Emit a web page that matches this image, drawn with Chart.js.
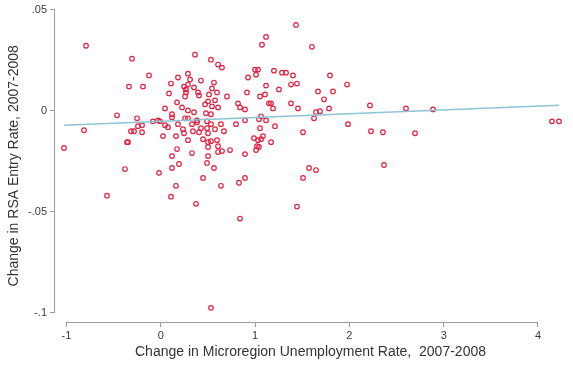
<!DOCTYPE html>
<html>
<head>
<meta charset="utf-8">
<script src="https://cdn.jsdelivr.net/npm/chart.js@4/dist/chart.umd.min.js"></script>
<style>
  html, body { margin: 0; padding: 0; background: #ffffff; }
  #wrap { width: 573px; height: 367px; }
</style>
</head>
<body>
<div id="wrap"><canvas id="c" width="573" height="367"></canvas></div>
<script>
// Change in microregion unemployment rate, 2007-2008 (one entry per microregion)
const unempChange = [
  -0.793, -0.305, -0.125, -0.337, -0.189, -0.464, 0.363, 1.434, 1.116, 1.073,
  1.603, 0.532, 0.607, 0.649, 0.999, 1.031, 1.200, 1.010, 1.285, 1.328,
  1.402, 1.794, 0.925, 1.116, 1.253, 1.381, 1.444, 1.975, 0.596, 0.564,
  0.702, 0.914, 1.052, 1.105, 1.147, 1.169, 1.381, 0.819, 0.840, 0.893,
  1.190, 1.455, 0.607, 1.063, 1.041, 0.893, 1.116, 1.667, 1.826, 1.731,
  2.218, 1.784, 1.646, 1.688, 2.600, 2.887, 1.625, 1.985, 1.508, 2.229,
  2.356, 2.696, 2.367, 4.148, 4.223, 0.288, 0.182, 0.310, 0.426, 0.108,
  0.246, 0.288, 0.352, 0.543, 0.267, 0.267, 0.087, 0.257, 0.395, 0.405,
  0.511, 0.501, 0.575, 0.172, 0.469, 0.543, 0.225, 0.045, 0.288, 0.352,
  0.479, 0.532, 0.119, 0.119, 0.257, 0.288, -0.252, -0.030, 0.384, -0.242,
  -0.199, -0.083, -0.008, -0.316, -0.284, -0.199, 0.045, 0.076, 0.182, 0.235,
  0.246, 0.331, 0.384, 0.341, 0.405, 0.426, 0.490, 0.532, 0.490, 0.501,
  0.575, -0.348, 0.023, 0.161, 0.288, 0.448, 0.501, 0.532, 0.596, 0.172,
  0.501, 0.607, 0.331, 0.607, 0.119, 0.501, -0.380, 0.119, 0.193, 0.490,
  0.564, -0.019, 0.448, 0.161, 0.638, 0.108, 0.373, 0.638, 0.670, 0.797,
  1.211, 1.052, 0.649, 0.734, 0.988, 1.031, 1.063, 1.084, 1.020, 1.041,
  1.010, 1.169, 0.893, 0.893, 0.829, 1.508, 1.572, 1.646, 1.444, 0.840,
  -0.814, -1.027, -0.358, -0.571, 0.532
];

// Change in RSA entry rate, 2007-2008 (same order as above)
const entryChange = [
  0.0321, 0.0257, 0.0174, 0.0119, 0.0119, -0.0023, 0.0277, 0.0424, 0.0365, 0.0326,
  0.0316, 0.0252, 0.0228, 0.0213, 0.0203, 0.0203, 0.0198, 0.0178, 0.0188, 0.0188,
  0.0174, 0.0174, 0.0164, 0.0124, 0.0105, 0.0129, 0.0134, 0.0129, 0.0090, 0.0139,
  0.0070, 0.0090, 0.0070, 0.0080, 0.0036, 0.0036, 0.0036, 0.0036, 0.0016, 0.0006,
  0.0011, 0.0011, 0.0016, -0.0028, -0.0043, -0.0048, -0.0048, 0.0095, 0.0095, 0.0056,
  0.0026, 0.0011, -0.0008, -0.0003, 0.0011, 0.0006, -0.0038, -0.0067, -0.0107, -0.0102,
  -0.0107, -0.0112, -0.0269, -0.0053, -0.0053, 0.0183, 0.0164, 0.0154, 0.0149, 0.0134,
  0.0119, 0.0129, 0.0115, 0.0110, 0.0105, 0.0090, 0.0085, 0.0070, 0.0090, 0.0075,
  0.0080, 0.0046, 0.0051, 0.0041, 0.0031, 0.0021, 0.0016, 0.0011, 0.0001, -0.0008,
  -0.0013, -0.0018, -0.0018, -0.0033, -0.0038, -0.0038, -0.0038, -0.0048, -0.0048, -0.0077,
  -0.0072, -0.0053, -0.0053, -0.0102, -0.0102, -0.0107, -0.0072, -0.0082, -0.0067, -0.0092,
  -0.0112, -0.0067, -0.0058, -0.0102, -0.0107, -0.0087, -0.0053, -0.0067, -0.0087, -0.0112,
  -0.0092, -0.0156, -0.0126, -0.0126, -0.0146, -0.0141, -0.0156, -0.0151, -0.0146, -0.0190,
  -0.0180, -0.0176, -0.0210, -0.0205, -0.0225, -0.0225, -0.0289, -0.0284, -0.0264, -0.0259,
  -0.0284, -0.0308, -0.0333, -0.0372, -0.0372, -0.0426, -0.0461, -0.0067, -0.0102, -0.0067,
  -0.0077, -0.0087, -0.0200, -0.0195, -0.0136, -0.0146, -0.0141, -0.0126, -0.0176, -0.0180,
  -0.0195, -0.0156, -0.0215, -0.0333, -0.0357, -0.0333, -0.0284, -0.0294, -0.0475, -0.0534,
  -0.0097, -0.0185, -0.0156, -0.0421, -0.0976
];

// Linear fit, endpoints over the observed range
const fitX = [-1.027, 4.223];
const fitY = [-0.0072, 0.0027];

// Axis ticks and their printed labels
const xTickValues = [-1, 0, 1, 2, 3, 4];
const xTickLabels = ['-1', '0', '1', '2', '3', '4'];
const yTickValues = [-0.1, -0.05, 0, 0.05];
const yTickLabels = ['-.1', '-.05', '0', '.05'];

const xTitle = 'Change in Microregion Unemployment Rate,  2007-2008';
const yTitle = 'Change in RSA Entry Rate, 2007-2008';

const scatterPoints = unempChange.map((x, i) => ({ x: x, y: entryChange[i] }));
const fitPoints = fitX.map((x, i) => ({ x: x, y: fitY[i] }));

const FONT = "'Liberation Sans', Arial, Helvetica, sans-serif";
const AXIS_GREY = '#9c9c9c';

// Axis lines spanning only the labelled range, offset from the data region
const axisLines = {
  id: 'axisLines',
  beforeDatasetsDraw(chart) {
    const { ctx, chartArea, scales } = chart;
    const xs = scales.x, ys = scales.y;
    ctx.save();
    ctx.strokeStyle = AXIS_GREY;
    ctx.lineWidth = 1;
    ctx.beginPath();
    const yb = Math.round(chartArea.bottom) + 0.5;
    ctx.moveTo(xs.getPixelForValue(xTickValues[0]), yb);
    ctx.lineTo(xs.getPixelForValue(xTickValues[xTickValues.length - 1]), yb);
    const xl = Math.round(chartArea.left) - 0.5;
    ctx.moveTo(xl, ys.getPixelForValue(yTickValues[0]));
    ctx.lineTo(xl, ys.getPixelForValue(yTickValues[yTickValues.length - 1]));
    ctx.stroke();
    ctx.restore();
  }
};

new Chart(document.getElementById('c'), {
  type: 'scatter',
  data: {
    datasets: [
      {
        type: 'line',
        data: fitPoints,
        borderColor: '#8cc4d6',
        borderWidth: 1.5,
        pointRadius: 0,
        fill: false,
        tension: 0,
        order: 0
      },
      {
        type: 'scatter',
        data: scatterPoints,
        pointStyle: 'circle',
        pointRadius: 2.3,
        borderWidth: 1.2,
        borderColor: '#e2203f',
        backgroundColor: 'rgba(255,255,255,0)',
        order: 1
      }
    ]
  },
  options: {
    responsive: false,
    devicePixelRatio: 1,
    animation: false,
    layout: { padding: { top: 8, right: 7, left: 0, bottom: 0 } },
    plugins: {
      legend: { display: false },
      tooltip: { enabled: false }
    },
    scales: {
      x: {
        type: 'linear',
        min: -1.122,
        max: 4.297,
        afterBuildTicks(scale) { scale.ticks = xTickValues.map(v => ({ value: v })); },
        afterFit(scale) { scale.height = 45; },
        border: { display: false },
        grid: { drawOnChartArea: false, drawTicks: true, tickLength: 5, color: AXIS_GREY, lineWidth: 1 },
        ticks: {
          autoSkip: false,
          maxRotation: 0,
          padding: 2,
          color: '#3a3a3a',
          font: { family: FONT, size: 11 },
          callback: (v, i) => xTickLabels[i]
        },
        title: {
          display: true,
          text: xTitle,
          color: '#333333',
          font: { family: FONT, size: 14 },
          padding: { top: 0, bottom: 6 }
        }
      },
      y: {
        type: 'linear',
        min: -0.1046,
        max: 0.05,
        afterBuildTicks(scale) { scale.ticks = yTickValues.map(v => ({ value: v })); },
        afterFit(scale) { scale.width = 55; },
        border: { display: false },
        grid: { drawOnChartArea: false, drawTicks: true, tickLength: 5, color: AXIS_GREY, lineWidth: 1 },
        ticks: {
          autoSkip: false,
          padding: 3,
          color: '#3a3a3a',
          font: { family: FONT, size: 11 },
          callback: (v, i) => yTickLabels[i]
        },
        title: {
          display: true,
          text: yTitle,
          color: '#333333',
          font: { family: FONT, size: 14 },
          padding: { top: 6, bottom: 0 }
        }
      }
    }
  },
  plugins: [axisLines]
});
</script>
</body>
</html>
